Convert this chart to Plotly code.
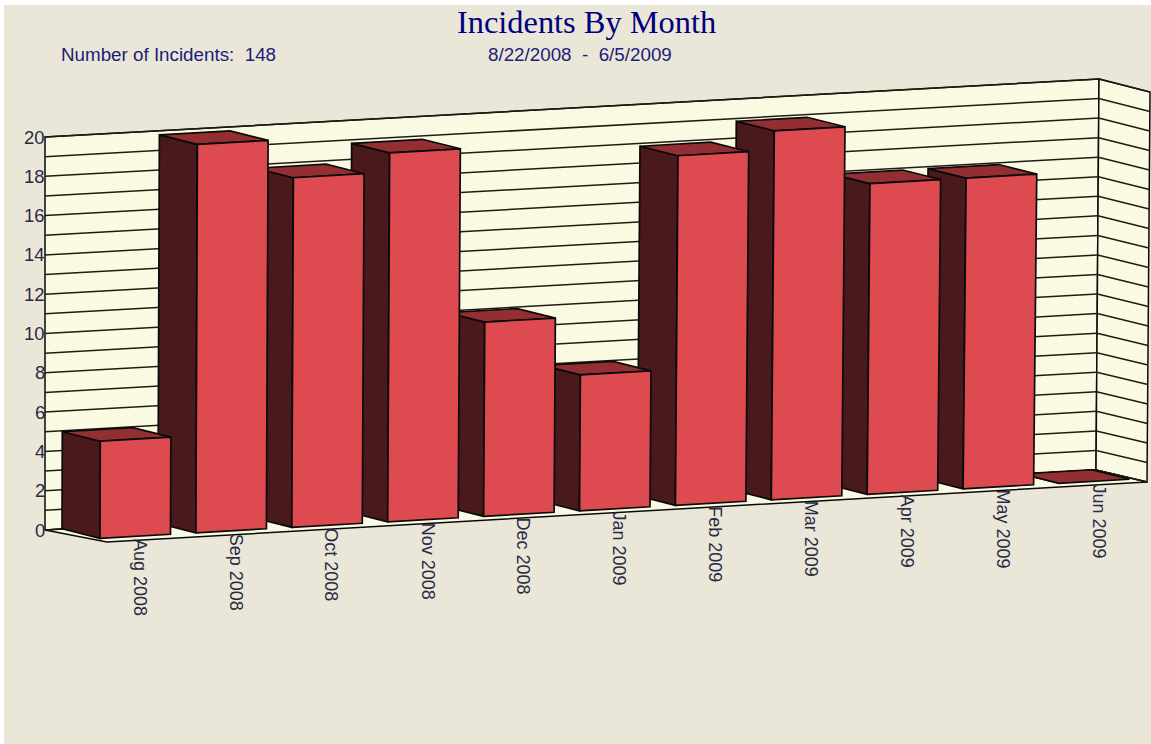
import plotly.graph_objects as go

# ---- data ----
months = ["Aug 2008", "Sep 2008", "Oct 2008", "Nov 2008", "Dec 2008", "Jan 2009",
          "Feb 2009", "Mar 2009", "Apr 2009", "May 2009", "Jun 2009"]
incidents = [5, 20, 18, 19, 10, 7, 18, 19, 16, 16, 0]
y_ticks = [0, 2, 4, 6, 8, 10, 12, 14, 16, 18, 20]
grid_values = list(range(0, 21))
title_text = "Incidents By Month"
count_text = "Number of Incidents:\u00a0\u00a0148"
range_text = "8/22/2008\u00a0\u00a0-\u00a0\u00a06/5/2009"

# ---- colours ----
PAPER, BG, WALL = "#ffffff", "#ebe7d8", "#fafae2"
FRONT, SIDE, TOP = "#dd4a50", "#4a191b", "#932f33"
INK, NAVY = "#0a0a0a", "#1c1c7a"

# ---- projection of the tilted 3D box onto the page ----
STEP, WIDTH, UNIT = 95.9, 70.5, 19.42
BACK = (-38.0, -9.5)


def bar_pt(slot, value, back=False):
    """slot = bar index (fractional along width), value = height."""
    lean = 0.06 + 0.014 * slot
    x = 100 + STEP * slot + lean * value
    y = 538.3 - 5.5 * slot - UNIT * value
    if back:
        x += BACK[0]
        y += BACK[1]
    return x, y


def bilerp(a, b, c, d, s, t):
    """a-b bottom edge, d-c top edge."""
    low = (a[0] + (b[0] - a[0]) * s, a[1] + (b[1] - a[1]) * s)
    high = (d[0] + (c[0] - d[0]) * s, d[1] + (c[1] - d[1]) * s)
    return low[0] + (high[0] - low[0]) * t, low[1] + (high[1] - low[1]) * t


W_BL, W_BR, W_TR, W_TL = (45, 530), (1096, 470), (1099, 79), (45, 137)
S_BR, S_TR = (1147, 482), (1150, 92)
F_FL = (107, 542)
MAXV = max(grid_values)


def poly(points, fill, name, width=1.7):
    xs = [p[0] for p in points] + [points[0][0]]
    ys = [p[1] for p in points] + [points[0][1]]
    return go.Scatter(x=xs, y=ys, mode="lines", fill="toself", fillcolor=fill,
                      line=dict(color=INK, width=width), name=name,
                      hoverinfo="skip", showlegend=False)


fig = go.Figure()
fig.add_trace(poly([W_BL, W_BR, W_TR, W_TL], WALL, "back wall", 1.5))
fig.add_trace(poly([W_BR, S_BR, S_TR, W_TR], WALL, "side wall", 1.5))
fig.add_trace(poly([W_BL, W_BR, S_BR, F_FL], WALL, "floor", 1.5))

gx, gy = [], []
for v in grid_values:
    t = v / MAXV
    for seg in ((bilerp(W_BL, W_BR, W_TR, W_TL, 0, t), bilerp(W_BL, W_BR, W_TR, W_TL, 1, t)),
                (bilerp(W_BR, S_BR, S_TR, W_TR, 0, t), bilerp(W_BR, S_BR, S_TR, W_TR, 1, t))):
        gx += [seg[0][0], seg[1][0], None]
        gy += [seg[0][1], seg[1][1], None]
fig.add_trace(go.Scatter(x=gx, y=gy, mode="lines", line=dict(color="#1c1c14", width=1.5),
                         hoverinfo="skip", showlegend=False, name="grid"))

span = WIDTH / STEP
for i in range(len(incidents) - 1, -1, -1):
    v = incidents[i]
    fl0, fr0 = bar_pt(i, 0), bar_pt(i + span, 0)
    fl1, fr1 = bar_pt(i, v), bar_pt(i + span, v)
    bl0, bl1 = bar_pt(i, 0, True), bar_pt(i, v, True)
    br1 = bar_pt(i + span, v, True)
    fig.add_trace(poly([bl0, fl0, fl1, bl1], SIDE, months[i] + " side"))
    fig.add_trace(poly([bl1, fl1, fr1, br1], TOP, months[i] + " top"))
    if v > 0:
        fig.add_trace(poly([fl0, fr0, fr1, fl1], FRONT, months[i] + " front"))

annotations = []
for i, m in enumerate(months):
    x, y = bar_pt(i + span / 2, 0)
    annotations.append(dict(x=x + 4.5, y=y + 2, text=m, textangle=90, showarrow=False,
                            xanchor="center", yanchor="top", borderpad=0,
                            font=dict(family="Liberation Sans", size=18, color="#2a2a44")))
for v in y_ticks:
    x, y = bilerp(W_BL, W_BR, W_TR, W_TL, 0, v / MAXV)
    annotations.append(dict(x=x + 1, y=y, text=str(v), showarrow=False, xanchor="right",
                            yanchor="middle", borderpad=0,
                            font=dict(family="Liberation Sans", size=18.5, color="#2a2a44")))
annotations += [
    dict(x=586.5, y=22, text=title_text, showarrow=False, xanchor="center", yanchor="middle",
         font=dict(family="Liberation Serif", size=32.4, color="#000080")),
    dict(x=59, y=55, text=count_text, showarrow=False, xanchor="left", yanchor="middle",
         font=dict(family="Liberation Sans", size=18.8, color=NAVY)),
    dict(x=579.5, y=55, text=range_text, showarrow=False, xanchor="center", yanchor="middle",
         font=dict(family="Liberation Sans", size=18.8, color=NAVY)),
]

fig.update_layout(
    width=1151, height=744, margin=dict(l=0, r=0, t=0, b=0), showlegend=False,
    paper_bgcolor=PAPER, plot_bgcolor=BG, annotations=annotations, hovermode=False,
    xaxis=dict(range=[4, 1151], domain=[4 / 1151, 1], visible=False, fixedrange=True),
    yaxis=dict(range=[744, 5], domain=[0, 1 - 5 / 744], visible=False, fixedrange=True),
)
fig.write_html("out.html", config={"displayModeBar": False},
               post_script="document.body.style.margin='0';document.body.style.overflow='hidden';")
